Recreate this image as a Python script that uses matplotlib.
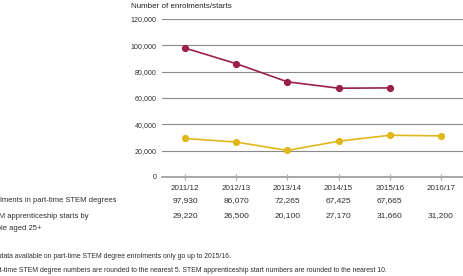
import matplotlib
matplotlib.use("Agg")
import matplotlib.pyplot as plt
import matplotlib.transforms as mtransforms

plt.rcParams['font.family'] = ['Liberation Sans', 'DejaVu Sans']

years = ['2011/12', '2012/13', '2013/14', '2014/15', '2015/16', '2016/17']
degrees = [97930, 86070, 72265, 67425, 67665]
apprentices = [29220, 26500, 20100, 27170, 31660, 31200]
yticks = [0, 20000, 40000, 60000, 80000, 100000, 120000]

row_labels = ['Enrolments in part-time STEM degrees',
              'STEM apprenticeship starts by', 'people aged 25+']
notes = ['The data available on part-time STEM degree enrolments only go up to 2015/16.',
         'Part-time STEM degree numbers are rounded to the nearest 5. '
         'STEM apprenticeship start numbers are rounded to the nearest 10.']

maroon = '#9b1f4c'
yellow = '#e0b81c'
text_col = '#2e2e2e'

fig = plt.figure(figsize=(4.63, 2.76), dpi=100)
ax = fig.add_axes([0.35, 0.359, 0.65, 0.572])

x = list(range(len(years)))
ax.plot(x[:len(degrees)], degrees, color=maroon, lw=1.2, marker='o', ms=4.2, clip_on=False, zorder=3)
ax.plot(x, apprentices, color=yellow, lw=1.2, marker='o', ms=4.2, clip_on=False, zorder=3)

ax.set_xlim(-0.45, 5.43)
ax.set_ylim(0, 120000)
ax.set_yticks(yticks)
ax.set_yticklabels([f'{v:,}' for v in yticks])
ax.set_xticks(x)
ax.set_xticklabels(years)
ax.grid(axis='y', color='#8a8a8a', lw=0.8)
ax.set_axisbelow(True)
for s in ['top', 'right', 'left']:
    ax.spines[s].set_visible(False)
ax.spines['bottom'].set_color('#a8a8a8')
ax.spines['bottom'].set_linewidth(1.4)
ax.tick_params(axis='y', length=0, pad=4, labelsize=5.1, labelcolor=text_col)
ax.tick_params(axis='x', direction='inout', length=4, color='#a8a8a8', pad=4,
               labelsize=5.8, labelcolor=text_col)

fig.text(131 / 463, 1 - 6 / 276, 'Number of enrolments/starts', fontsize=5.8,
         color='#222222', va='center', ha='left')

# table rows under the chart
tr = mtransforms.blended_transform_factory(ax.transData, fig.transFigure)
for i, v in enumerate(degrees):
    fig.text(x[i], 1 - 201 / 276, f'{v:,}', fontsize=6, color=text_col,
             ha='center', va='center', transform=tr)
for i, v in enumerate(apprentices):
    fig.text(x[i], 1 - 216 / 276, f'{v:,}', fontsize=6, color=text_col,
             ha='center', va='center', transform=tr)

lx = -16 / 463
fig.text(lx, 1 - 201 / 276, row_labels[0], fontsize=5.5, color=text_col, va='center')
fig.text(lx, 1 - 216 / 276, row_labels[1], fontsize=5.5, color=text_col, va='center')
fig.text(lx, 1 - 229 / 276, row_labels[2], fontsize=5.5, color=text_col, va='center')

fig.text(-13.5 / 463, 1 - 257 / 276, notes[0], fontsize=4.95, color=text_col, va='center')
fig.text(-11 / 463, 1 - 270 / 276, notes[1], fontsize=4.95, color=text_col, va='center')

fig.savefig('out.png', dpi=100)
